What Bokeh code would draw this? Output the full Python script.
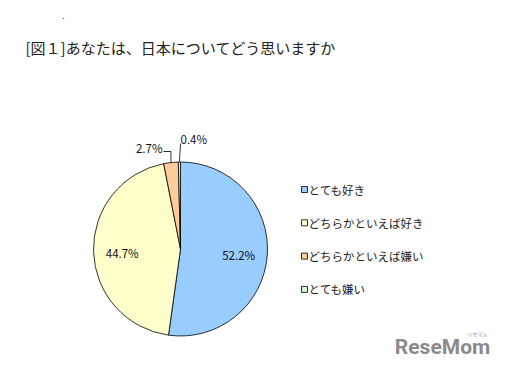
import math
from bokeh.plotting import figure
from bokeh.models import ColumnDataSource, Range1d
from bokeh.core.properties import value
from bokeh.embed import file_html
from bokeh.resources import INLINE

# ---- data ----
categories = ["とても好き", "どちらかといえば好き", "どちらかといえば嫌い", "とても嫌い"]
shares = [52.2, 44.7, 2.7, 0.4]
colors = ["#99CCFF", "#FFFFCC", "#FFCC99", "#CCFFCC"]
title_text = "[図１]あなたは、日本についてどう思いますか"

W, H = 505, 368
FONT = "Noto Sans CJK JP"

def py(page_y):
    return H - page_y

def px(page_x):
    return page_x

p = figure(width=W, height=H, output_backend="svg", toolbar_location=None,
           x_range=Range1d(0, W), y_range=Range1d(0, H), min_border=0)
p.axis.visible = False
p.grid.visible = False
p.outline_line_color = None
p.background_fill_color = "white"
p.border_fill_color = "white"

# pie
cx, cy, R = px(180), py(248.5), 87
total = sum(shares)
starts, ends, mids = [], [], []
cum = 0.0
for s in shares:
    a0 = math.pi / 2 - cum / total * 2 * math.pi
    cum += s
    a1 = math.pi / 2 - cum / total * 2 * math.pi
    starts.append(a0)
    ends.append(a1)
    mids.append((a0 + a1) / 2)

src = ColumnDataSource(dict(start=starts, end=ends, color=colors))
p.wedge(x=cx, y=cy, radius=R, start_angle="start", end_angle="end",
        direction="clock", fill_color="color", line_color="black",
        line_width=0.8, source=src)

# inside labels (two large slices)
in_x = [cx + 0.67 * R * math.cos(mids[i]) for i in range(2)]
in_y = [cy + 0.67 * R * math.sin(mids[i]) - 2 for i in range(2)]
in_t = [f"{shares[i]:.1f}%" for i in range(2)]
p.text(x=in_x, y=in_y, text=in_t, text_font=value(FONT), text_font_size="11.5px",
       text_align="center", text_baseline="middle", text_color="#111111")

# outside labels with leader lines
# 2.7%
ex = cx + R * math.cos(mids[2])
ey = cy + R * math.sin(mids[2])
ly = py(151)
p.line(x=[ex, ex, px(163)], y=[ey, ly, ly], line_color="black", line_width=0.8)
p.text(x=[px(162)], y=[py(147)], text=[f"{shares[2]:.1f}%"], text_font=value(FONT),
       text_font_size="11.5px", text_align="right", text_baseline="middle",
       text_color="#111111")
# 0.4%
ex2 = cx + R * math.cos(mids[3])
ey2 = cy + R * math.sin(mids[3])
p.line(x=[ex2, px(180)], y=[ey2, py(143)], line_color="black", line_width=0.8)
p.text(x=[px(180)], y=[py(138)], text=[f"{shares[3]:.1f}%"], text_font=value(FONT),
       text_font_size="11.5px", text_align="left", text_baseline="middle",
       text_color="#111111")

# legend
leg_y = [py(189 + 33.3 * i) for i in range(len(categories))]
leg_src = ColumnDataSource(dict(y=leg_y, color=colors, label=categories))
p.scatter(x=px(304), y="y", marker="square", size=6, fill_color="color",
          line_color="black", line_width=0.8, source=leg_src)
p.text(x=px(308), y="y", text="label", text_font=value(FONT), text_font_size="11.5px",
       text_align="left", text_baseline="middle", text_color="#222222", source=leg_src)

# title
p.text(x=[px(25)], y=[py(47)], text=[title_text], text_font=value(FONT),
       text_font_size="15px", text_align="left", text_baseline="middle",
       text_color="#222222")
p.text(x=[px(63)], y=[py(14)], text=["."], text_font=value(FONT),
       text_font_size="10px", text_align="center", text_baseline="middle",
       text_color="#444444")

# watermark
p.text(x=[px(442)], y=[py(346)], text=["ReseMom"], text_font=value("Roboto"),
       text_font_size="21px", text_font_style="bold", text_align="center",
       text_baseline="middle", text_color="#8a8a8a")
p.text(x=[px(477)], y=[py(333)], text=["リセマム"], text_font=value(FONT),
       text_font_size="5px", text_align="center", text_baseline="middle",
       text_color="#8a8a8a")

open("out.html", "w").write(file_html(p, INLINE))
